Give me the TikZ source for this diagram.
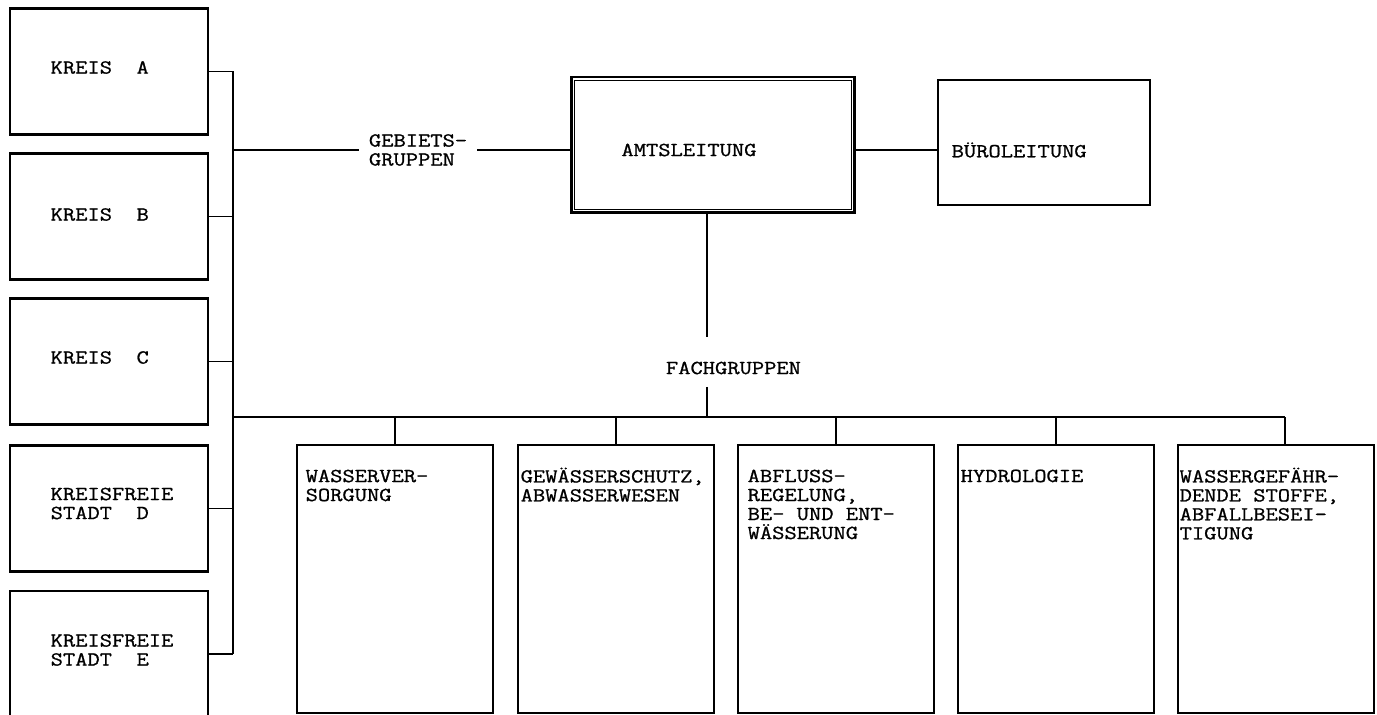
\documentclass[tikz,border=0pt]{standalone}
\usepackage{fontspec}
\usetikzlibrary{positioning,calc}
\newfontfamily\schreib{Latin Modern Mono}[FakeStretch=1.2,FakeBold=1]

\begin{document}
\begin{tikzpicture}[x=0.02cm, y=-0.02cm, line width=1.1pt,
    font=\schreib\fontsize{11.3}{10.8}\selectfont,
    kasten/.style={draw, line width=1.5pt, inner sep=0pt},
    kreis/.style={kasten, minimum width=3.96cm, minimum height=2.52cm},
    fach/.style={kasten, minimum width=3.92cm, minimum height=5.36cm},
    txt/.style={inner sep=0pt, align=left}]
    \useasboundingbox (0,0) rectangle (1377,715);
    \clip (0,0) rectangle (1377,715);

    \node[kreis] (kreisA) at (109,71.5) {};
    \node[kreis] (kreisB) at (109,216.5) {};
    \node[kreis] (kreisC) at (109,361.5) {};
    \node[kreis] (kreisD) at (109,508.5) {};
    \node[kreis] (kreisE) at (109,654) {};
    \node[txt, anchor=west] (textA) at ($(kreisA.west)+(41,-4)$) {KREIS\ \ A};
    \node[txt, anchor=west] (textB) at ($(kreisB.west)+(41,-2)$) {KREIS\ \ B};
    \node[txt, anchor=west] (textC) at ($(kreisC.west)+(41,-4)$) {KREIS\ \ C};
    \node[txt, anchor=west] (textD) at ($(kreisD.west)+(41,-5)$) {KREISFREIE\\STADT\ \ D};
    \node[txt, anchor=west] (textE) at ($(kreisE.west)+(41,-4)$) {KREISFREIE\\STADT\ \ E};

    \node[kasten, line width=1.7pt, minimum width=5.68cm, minimum height=2.72cm] (amt) at (713,145) {};
    \draw[line width=0.8pt] ($(amt.north west)+(5,5)$) rectangle ($(amt.south east)+(-5,-5)$);
    \node[txt, anchor=west] (amttext) at ($(amt.west)+(51,5)$) {AMTSLEITUNG};
    \node[kasten, minimum width=4.24cm, minimum height=2.5cm] (buero) at (1044,142.5) {};
    \node[txt, anchor=west] (buerotext) at ($(buero.west)+(14,7.5)$) {BÜROLEITUNG};

    \node[txt, inner xsep=0.18cm, anchor=west] (gebiets) at (359,150) {GEBIETS-\\GRUPPEN};
    \node[txt, anchor=west] (fachgruppen) at (665,368) {FACHGRUPPEN};

    \node[fach] (wasser) at (395,579) {};
    \node[fach] (gewaesser) at (616,579) {};
    \node[fach] (abfluss) at (836,579) {};
    \node[fach] (hydro) at (1056,579) {};
    \node[fach] (stoffe) at (1276,579) {};
    \node[txt, anchor=north west] (wassertext) at ($(wasser.north west)+(9,25)$) {WASSERVER-\\SORGUNG};
    \node[txt, anchor=north west] (gewaessertext) at ($(gewaesser.north west)+(3,23)$) {GEWÄSSERSCHUTZ,\\ABWASSERWESEN};
    \node[txt, anchor=north west] (abflusstext) at ($(abfluss.north west)+(10,25)$) {ABFLUSS-\\REGELUNG,\\BE- UND ENT-\\WÄSSERUNG};
    \node[txt, anchor=north west] (hydrotext) at ($(hydro.north west)+(3,25)$) {HYDROLOGIE};
    \node[txt, anchor=north west] (stoffetext) at ($(stoffe.north west)+(2,23)$) {WASSERGEFÄHR-\\DENDE STOFFE,\\ABFALLBESEI-\\TIGUNG};

    \coordinate (lbus) at (233,0);
    \coordinate (fbus) at (233,417);
    \coordinate (fachoben) at (707,337);
    \coordinate (fachunten) at (707,387);
    \coordinate (fbusende) at ($(stoffe.north)+(9,0)$);

    \foreach \k in {A,B,C,D,E}
      \draw (kreis\k.east) -- (kreis\k.east -| lbus);
    \draw (kreisA.east -| lbus) -- (kreisE.east -| lbus);
    \draw (lbus |- gebiets.west) -- (gebiets.west);
    \draw (gebiets.east) -- (gebiets.east -| amt.west);
    \draw (amt.east |- buerotext.west) -- (buero.west |- buerotext.west);
    \draw (amt.south -| fachoben) -- (fachoben);
    \draw (fachunten) -- (fachunten |- fbus);
    \draw (fbus) -- (fbus -| fbusende);
    \foreach \b in {wasser,gewaesser,abfluss,hydro}
      \draw (\b.north) -- (\b.north |- fbus);
    \draw (fbusende) -- (fbusende |- fbus);
\end{tikzpicture}
\end{document}
